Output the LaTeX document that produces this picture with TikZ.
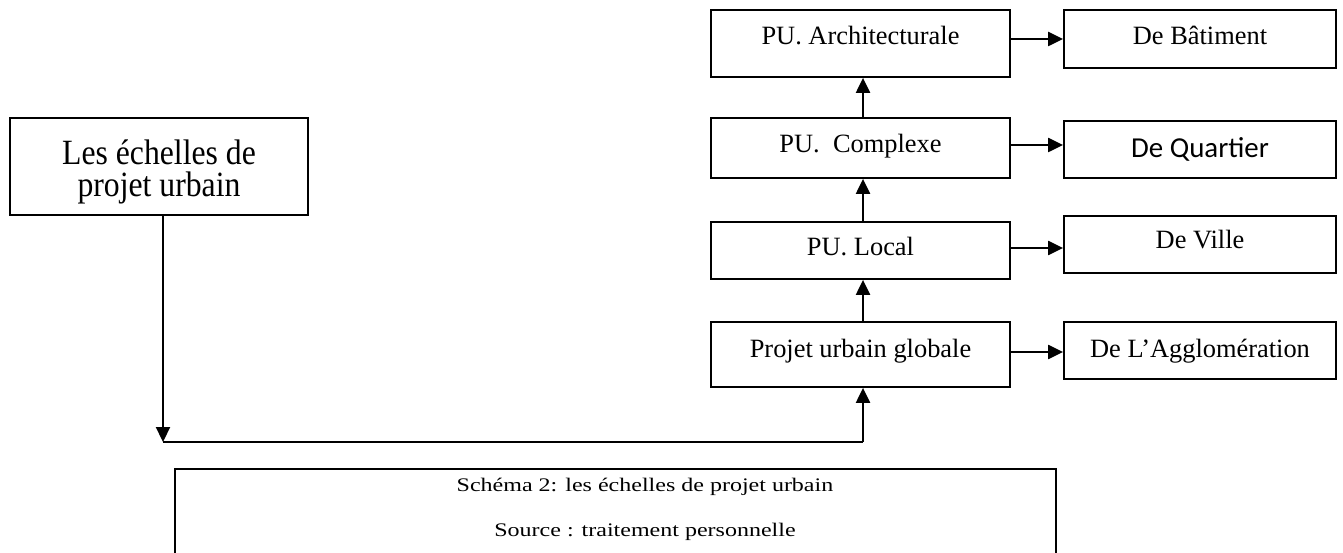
\documentclass[tikz,border=0pt]{standalone}
\usepackage{graphicx}
\usepackage{fontspec}
\setmainfont{Liberation Serif}
\newfontfamily\carlito{Carlito}
\usetikzlibrary{arrows.meta}
\begin{document}
\begin{tikzpicture}[x=1pt,y=-1pt,
  box/.style={draw, line width=1.8pt, inner sep=0pt},
  lbl/.style={anchor=base, inner sep=0pt, font=\fontsize{26.4}{30}\selectfont},
  big/.style={anchor=base, inner sep=0pt, font=\fontsize{31.7}{32}\selectfont},
  captxt/.style={anchor=base, inner sep=0pt, font=\fontsize{24}{28}\selectfont},
  arr/.style={line width=2.2pt, -{Triangle[length=15pt,width=14pt]}},
  plain/.style={line width=2.2pt}
]
\useasboundingbox (0,0) rectangle (1343,553);

% left box
\node[box, minimum width=298pt, minimum height=97pt] (lb) at (159,166.5) {};
\node[big] (lbt1) at (159,165) {\scalebox{1}[1.12]{Les échelles de}};
\node[big] (lbt2) at (159,197) {\scalebox{1}[1.12]{projet urbain}};

% left column
\node[box, minimum width=299pt, minimum height=67pt] (arch) at (860.5,43.5) {};
\node[box, minimum width=299pt, minimum height=60pt] (comp) at (860.5,148) {};
\node[box, minimum width=299pt, minimum height=57pt] (loc) at (860.5,250.5) {};
\node[box, minimum width=299pt, minimum height=65pt] (glob) at (860.5,354.5) {};
\node[lbl] (archt) at (860.5,45) {PU. Architecturale};
\node[lbl] (compt) at (860.5,153) {PU.\ \ Complexe};
\node[lbl] (loct) at (860.5,256) {PU. Local};
\node[lbl] (globt) at (860.5,357) {Projet urbain globale};

% right column
\node[box, minimum width=272pt, minimum height=58pt] (bat) at (1200,39) {};
\node[box, minimum width=272pt, minimum height=57pt] (quar) at (1200,149.5) {};
\node[box, minimum width=272pt, minimum height=57pt] (vil) at (1200,244.5) {};
\node[box, minimum width=272pt, minimum height=57pt] (agg) at (1200,350.5) {};
\node[lbl] (batt) at (1200,45) {De Bâtiment};
\node[lbl, font=\carlito\fontsize{28.9}{32}\selectfont] (quart) at (1200,158) {De Quartier};
\node[lbl] (vilt) at (1200,249) {De Ville};
\node[lbl] (aggt) at (1200,357) {De L’Agglomération};

% horizontal arrows
\draw[arr] (arch.east |- bat.west) -- (bat.west);
\draw[arr] ([yshift=3pt]comp.east) -- ([yshift=3pt]comp.east -| quar.west);
\draw[arr] ([yshift=2.5pt]loc.east) -- ([yshift=2.5pt]loc.east -| vil.west);
\draw[arr] ([yshift=2.5pt]glob.east) -- ([yshift=2.5pt]glob.east -| agg.west);

% vertical arrows
\draw[arr] ([xshift=2.5pt]comp.north) -- ([xshift=2.5pt]arch.south);
\draw[arr] ([xshift=2.5pt]loc.north) -- ([xshift=2.5pt]comp.south);
\draw[arr] ([xshift=2.5pt]glob.north) -- ([xshift=2.5pt]loc.south);

% connector from left box
\coordinate (c1) at (163,442);
\coordinate (c2) at (863,442);
\draw[arr] (lb.south -| c1) -- (c1);
\draw[plain] (c1) -- (c2);
\draw[arr] (c2) -- (c2 |- glob.south);

% caption box
\node[inner sep=0pt, minimum width=881pt, minimum height=84pt] (capbox) at (615.5,511) {};
\draw[line width=2.2pt] (capbox.south west) -- (capbox.north west) -- (capbox.north east) -- (capbox.south east);
\node[captxt] (capt1) at (645,491) {\scalebox{1}[0.8]{Schéma 2: les échelles de projet urbain}};
\node[captxt] (capt2) at (645,536) {\scalebox{1}[0.8]{Source : traitement personnelle}};
\end{tikzpicture}
\end{document}
